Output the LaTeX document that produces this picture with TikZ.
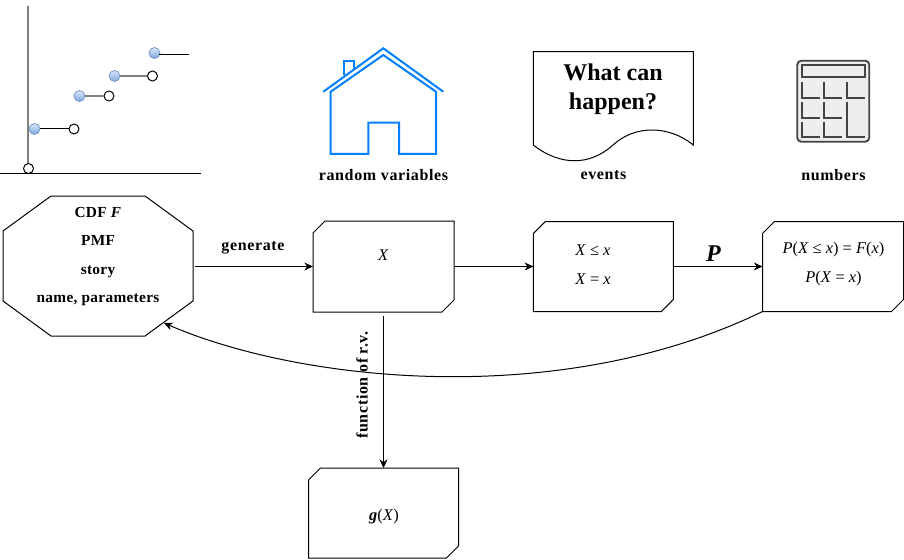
\documentclass[tikz,border=0pt]{standalone}
\usepackage{fontspec}
\setmainfont{Liberation Serif}
\usetikzlibrary{arrows.meta,calc}
\definecolor{houseblue}{RGB}{0,127,255}
\definecolor{calcgray}{RGB}{68,68,68}
\tikzset{
  cutbox/.style={rectangle,inner sep=0pt,outer sep=0pt},
  outline/.style={line width=0.75pt},
  flow/.style={-{Stealth[length=6.5pt,width=6pt]},line width=0.75pt},
  lbl/.style={inner sep=0pt,font=\bfseries\fontsize{11.5}{13}\selectfont\addfontfeature{LetterSpace=2}},
  caplbl/.style={inner sep=0pt,font=\bfseries\fontsize{12}{14}\selectfont\addfontfeature{LetterSpace=4}},
  mathlbl/.style={inner sep=0pt,font=\fontsize{12.3}{14}\selectfont},
  openpt/.style={circle,draw,fill=white,inner sep=0pt,minimum size=7.5pt,line width=0.75pt},
  fillpt/.style={circle,draw={rgb,255:red,108;green,142;blue,191},top color={rgb,255:red,218;green,232;blue,252},bottom color={rgb,255:red,126;green,166;blue,224},inner sep=0pt,minimum size=8.25pt,line width=0.5pt},
  housepen/.style={draw=houseblue,line width=1.5pt,line join=miter},
  calcpen/.style={draw=calcgray,line width=1.4pt}
}
% outline of a box with two cut corners
\newcommand{\cutoutline}[1]{%
  \draw [outline] ($(#1.north west)+(0,12)$) -- ($(#1.north west)+(12,0)$) -- (#1.north east) -- ($(#1.south east)+(0,-12)$) -- ($(#1.south east)+(-12,0)$) -- (#1.south west) -- cycle;
}
\begin{document}
\begin{tikzpicture}[x=0.75pt,y=0.75pt,yscale=-1,xscale=1]
\useasboundingbox (0,0) rectangle (904,560);

%Step plot
\draw [gray,line width=1.5pt] (28,6) -- (28,165);
\draw [line width=0.75pt] (0,173) -- (201,173);
\node [openpt] (origin) at (28.5,168.5) {};
\node [fillpt] (a1) at (34.5,129) {};
\node [openpt] (b1) at (74,129) {};
\node [fillpt] (a2) at (79.5,96) {};
\node [openpt] (b2) at (109,96) {};
\node [fillpt] (a3) at (114.5,76) {};
\node [openpt] (b3) at (152.5,76) {};
\node [fillpt] (a4) at (154.5,53) {};
\coordinate (b4) at (189,55);
\draw [line width=0.75pt] (a1) -- (b1);
\draw [gray,line width=1.5pt] (a2) -- (b2);
\draw [gray,line width=1.5pt] (a3) -- (b3);
\draw [line width=0.75pt] (a4.south east |- b4) -- (b4);

%House
\draw [housepen] (323.3,91.7) -- (383.3,48.3) -- (443.3,91.7);
\draw [housepen] (368.3,154) -- (330.7,154) -- (330.7,91.7) -- (383.3,55) -- (436,91.7) -- (436,154) -- (399,154) -- (399,122.7) -- (368.3,122.7) -- cycle;
\draw [housepen] (344.3,75) -- (344.3,60.7) -- (353.7,60.7) -- (353.7,69.3);

%Document
\draw [line width=0.75pt] (533.3,51.7) -- (693.3,51.7) -- (693.3,145) .. controls (670,126) and (636,124) .. (613,145) .. controls (590,166) and (560,166) .. (533.3,145) -- cycle;
\node [inner sep=0pt,align=center,font=\bfseries\fontsize{18}{21.75}\selectfont] (happen) at (613,89) {What can\\happen?};

%Calculator
\draw [calcpen,fill={rgb,255:red,238;green,238;blue,238},rounded corners=3pt] (797.3,60.7) rectangle (869.3,141.7);
\draw [calcpen] (802,65.3) rectangle (865,77.3);
\foreach \colx/\colend in {802/820,824.3/842.3,846.7/865} {
  \draw [calcpen] (\colx,82.3) -- (\colx,97.7) -- (\colend,97.7);
}
\foreach \colx/\colend in {802/820,824.3/842.3} {
  \draw [calcpen] (\colx,101.7) -- (\colx,117.7) -- (\colend,117.7);
  \draw [calcpen] (\colx,122.3) -- (\colx,137.3) -- (\colend,137.3);
}
\draw [calcpen] (846.7,101.7) -- (846.7,137.3) -- (865,137.3);

% Captions
\node [caplbl] (caprv) at (383.5,175) {random variables};
\node [caplbl] (capev) at (603.5,175.5) {events};
\node [caplbl] (capnum) at (833.5,175) {numbers};

% Boxes
\node [cutbox,minimum width=142.5pt,minimum height=105pt] (dist) at (98,266) {};
\draw [outline] ($(dist.north west)+(0,35)$) -- ($(dist.north west)+(48,0)$) -- ($(dist.north east)+(-48,0)$) -- ($(dist.north east)+(0,35)$) -- ($(dist.south east)+(0,-35)$) -- ($(dist.south east)+(-48,0)$) -- ($(dist.south west)+(48,0)$) -- ($(dist.south west)+(0,-35)$) -- cycle;
\coordinate (hit) at (164,323);
\node [cutbox,minimum width=105.75pt,minimum height=68.25pt] (rv) at (383.5,266.5) {};
\node [cutbox,minimum width=105pt,minimum height=67.5pt] (ev) at (603.3,266.5) {};
\node [cutbox,minimum width=105.75pt,minimum height=67.5pt] (prob) at (833,266.5) {};
\node [cutbox,minimum width=112.5pt,minimum height=67.5pt] (gx) at (383.5,513) {};
\cutoutline{rv}
\cutoutline{ev}
\cutoutline{prob}
\cutoutline{gx}

% Text Node
\node [lbl] (cdf) at (98,212) {CDF \textit{F}};
\node [lbl] (pmf) at (98,240) {PMF};
\node [lbl] (story) at (98,272) {story};
\node [lbl] (name) at (98,300) {name, parameters};
\node [mathlbl] (xtxt) at (383.5,255) {\textit{X}};
\node [mathlbl] (xle) at (593,250) {\textit{X} ≤ \textit{x}};
\node [mathlbl] (xeq) at (593,279) {\textit{X} = \textit{x}};
\node [mathlbl] (pxle) at (833.5,250) {\textit{P}(\textit{X} ≤ \textit{x}) = \textit{F}(\textit{x})};
\node [mathlbl] (pxeq) at (833.5,279) {\textit{P}(\textit{X} = \textit{x})};
\node [mathlbl] (gtxt) at (384,517) {\textbf{\textit{g}}(\textit{X})};

%Connectors
\draw [flow,shorten <=1.5pt] (dist.east |- rv.west) -- (rv.west) node [caplbl,pos=0.5,above=9pt] (gen) {generate};
\draw [flow] (rv) -- (ev);
\draw [flow] (ev) -- (prob) node [inner sep=0pt,pos=0.45,above=3.5pt,font=\bfseries\itshape\fontsize{18}{20}\selectfont] (plbl) {P};
\draw [flow,shorten <=3pt] (rv) -- (gx);
\draw [flow] (prob.south west) .. controls (560,410) and (300,382) .. (hit);
\node [caplbl,rotate=90] (func) at (362,385) {function of r.v.};
\end{tikzpicture}
\end{document}
